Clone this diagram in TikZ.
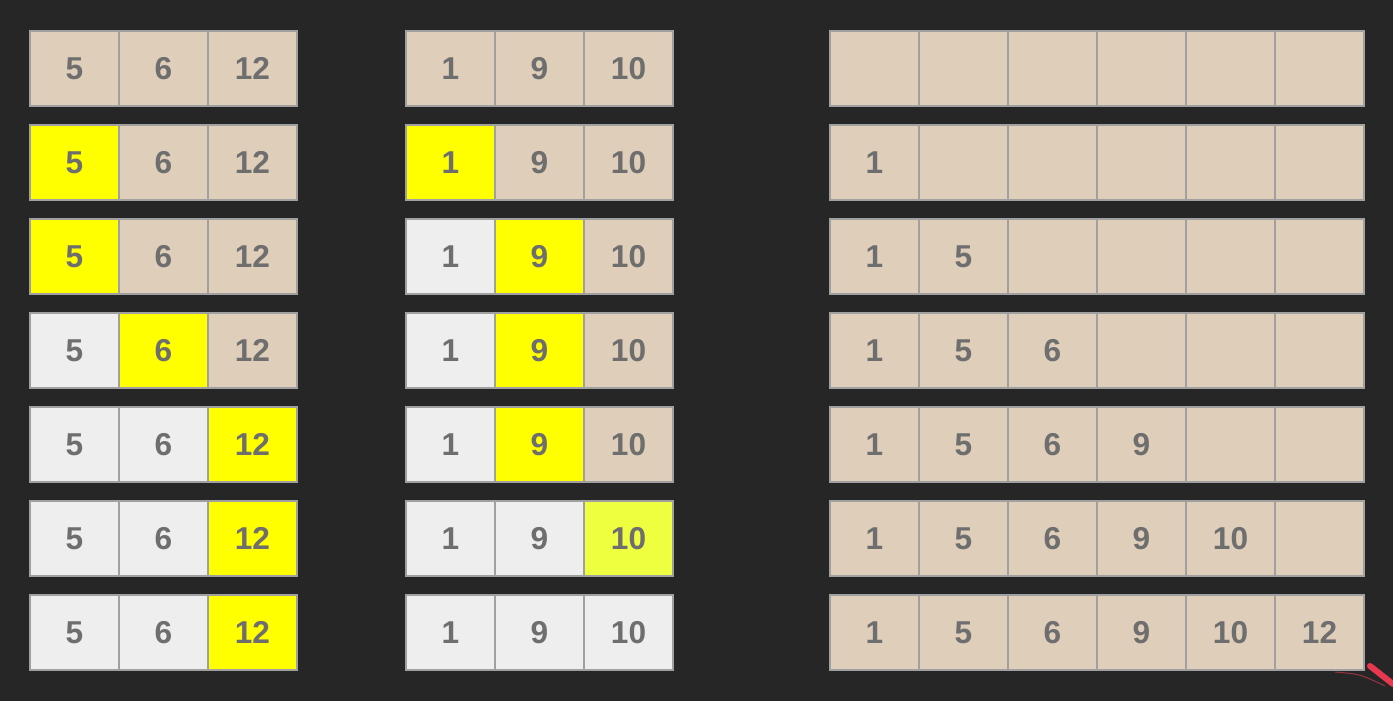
\documentclass[tikz,border=0pt]{standalone}
\usepackage{fontspec}
\setmainfont{Liberation Sans}
\definecolor{bg}{HTML}{262626}
\definecolor{bge}{HTML}{DFCEB9}
\definecolor{gry}{HTML}{EEEEEE}
\definecolor{ylw}{HTML}{FFFF00}
\definecolor{ylwb}{HTML}{EEFF3F}
\definecolor{edge}{HTML}{A0A0A0}
\definecolor{txt}{HTML}{6E6E6E}
\definecolor{pen}{HTML}{E8384F}
\tikzset{
  cell/.style={draw=edge, line width=0.04cm, minimum width=1.78cm, minimum height=1.5cm,
    inner sep=0pt, outer sep=0pt, text=txt, font={\fontsize{18pt}{20pt}\selectfont\bfseries}}}

\begin{document}
\begin{tikzpicture}[x=0.02cm, y=-0.02cm]
\fill [bg] (0,0) rectangle (1393,701);
\useasboundingbox (0,0) rectangle (1393,701);
\foreach \r/\a/\b/\c in {1/bge/bge/bge, 2/ylw/bge/bge, 3/ylw/bge/bge, 4/gry/ylw/bge,
    5/gry/gry/ylw, 6/gry/gry/ylw, 7/gry/gry/ylw} {
  \node [cell, fill=\a] (l-\r-1) at (74.5, {68.5+94*(\r-1)}) {5};
  \node [cell, fill=\b] (l-\r-2) at (163.5, {68.5+94*(\r-1)}) {6};
  \node [cell, fill=\c] (l-\r-3) at (252.5, {68.5+94*(\r-1)}) {12};
}
\foreach \r/\a/\b/\c in {1/bge/bge/bge, 2/ylw/bge/bge, 3/gry/ylw/bge, 4/gry/ylw/bge,
    5/gry/ylw/bge, 6/gry/gry/ylwb, 7/gry/gry/gry} {
  \node [cell, fill=\a] (m-\r-1) at (450.5, {68.5+94*(\r-1)}) {1};
  \node [cell, fill=\b] (m-\r-2) at (539.5, {68.5+94*(\r-1)}) {9};
  \node [cell, fill=\c] (m-\r-3) at (628.5, {68.5+94*(\r-1)}) {10};
}
\foreach \r in {1,...,7} {
  \foreach \c/\v in {1/1, 2/5, 3/6, 4/9, 5/10, 6/12} {
    \pgfmathtruncatemacro\shown{\c<\r}
    \node [cell, fill=bge] (r-\r-\c) at ({874.5+89*(\c-1)}, {68.5+94*(\r-1)}) {\ifnum\shown=1 \v\fi};
  }
}
\draw [pen!60!bg, line width=0.02cm] (1335,672) .. controls (1360,674) .. (1385,686);
\draw [pen, line width=0.12cm, line cap=round] (1370,666) -- (1393,684);
\end{tikzpicture}
\end{document}
